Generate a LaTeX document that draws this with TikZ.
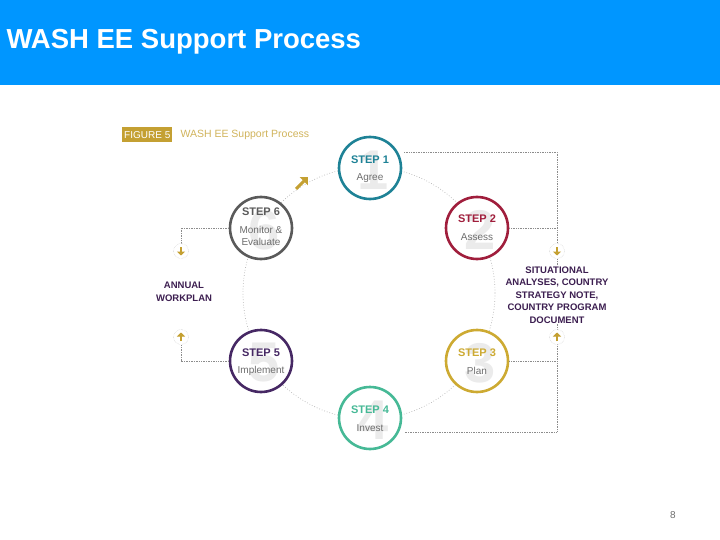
\documentclass[tikz,border=0pt]{standalone}
\usepackage{fontspec}
\setmainfont{Liberation Sans}
\usetikzlibrary{arrows.meta}
\definecolor{hdr}{RGB}{0,150,255}
\definecolor{gold}{RGB}{196,160,50}
\definecolor{c1}{RGB}{30,130,150}
\definecolor{c2}{RGB}{160,30,60}
\definecolor{c3}{RGB}{205,170,50}
\definecolor{c4}{RGB}{70,185,150}
\definecolor{c5}{RGB}{70,40,100}
\definecolor{c6}{RGB}{90,90,90}
\definecolor{txt}{RGB}{110,110,110}
\definecolor{purp}{RGB}{60,30,80}
\begin{document}
\begin{tikzpicture}[x=1pt,y=-1pt,
 stepc/.style={circle,draw=#1,line width=2.6pt,minimum size=62pt,inner sep=0pt},
 bignum/.style={font=\bfseries\fontsize{56}{56}\selectfont,text=black!8},
 sttl/.style={font=\bfseries\fontsize{11}{12}\selectfont,text=#1},
 ssub/.style={font=\fontsize{10}{11}\selectfont,text=txt,align=center},
 dots/.style={densely dotted,draw=black!45,line width=0.7pt},
 ring/.style={dotted,draw=black!30,line width=0.7pt},
 arrc/.style={circle,draw=black!25,densely dotted,minimum size=15pt,inner sep=0pt},
 side/.style={font=\bfseries\fontsize{9.5}{12.5}\selectfont,text=purp,align=center}]
\useasboundingbox (0,0) rectangle (720,540);
\fill[hdr] (0,0) rectangle (720,85);
\node[anchor=west,text=white,font=\bfseries\fontsize{27.5}{30}\selectfont] (title) at (3,42) {WASH EE Support Process};
\node[fill=gold,text=white,anchor=west,font=\fontsize{10}{10}\selectfont,minimum height=15pt,inner sep=2pt] (fig) at (122,135) {FIGURE 5};
\node[anchor=west,text=gold!80,font=\fontsize{10.5}{11}\selectfont] (figt) at (177,135) {WASH EE Support Process};
\draw[ring] (369,293) circle (126);
\foreach \n/\x/\y/\c in {1/370/168/c1,2/477/228/c2,3/477/361/c3,4/370/418/c4,5/261/361/c5,6/261/228/c6}{
 \fill[white] (\x,\y) circle (32);
 \node[bignum] at (\x+3,\y+2) {\n};
 \node[stepc=\c] (s\n) at (\x,\y) {};
}
\node[sttl=c1] at (370,160) {STEP 1};
\node[ssub] at (370,178) {Agree};
\node[sttl=c2] at (477,219) {STEP 2};
\node[ssub] at (477,237) {Assess};
\node[sttl=c3] at (477,353) {STEP 3};
\node[ssub] at (477,371) {Plan};
\node[sttl=c4] at (370,410) {STEP 4};
\node[ssub] at (370,428) {Invest};
\node[sttl=c5] at (261,353) {STEP 5};
\node[ssub] at (261,371) {Implement};
\node[sttl=c6] at (261,212) {STEP 6};
\node[ssub,font=\fontsize{10}{12}\selectfont] at (261,236) {Monitor \&\\Evaluate};
% right loop
\coordinate (r1) at (557,152); \coordinate (r4) at (557,432);
\draw[dots] (404,152) -- (r1) -- (r4) -- (404,432);
\draw[dots] (s2.east) -- (557,228);
\draw[dots] (s3.east) -- (557,361);
\node[arrc,fill=white] (ar1) at (557,251) {};
\node[arrc,fill=white] (ar2) at (557,337) {};
\node[side,fill=white,inner sep=1pt] (rt) at (557,295) {SITUATIONAL\\ANALYSES, COUNTRY\\STRATEGY NOTE,\\COUNTRY PROGRAM\\DOCUMENT};
% left loop
\draw[dots] (s6.west) -- (181,228) -- (181,246);
\draw[dots] (s5.west) -- (181,361) -- (181,342);
\node[arrc,fill=white] (al1) at (181,251) {};
\node[arrc,fill=white] (al2) at (181,337) {};
\node[side] (lt) at (184,292) {ANNUAL\\WORKPLAN};
\foreach \p in {ar1,al1}{\draw[gold,line width=2pt,-{Triangle[length=4pt,width=8pt]}] ([yshift=4pt]\p.center) -- ([yshift=-4.5pt]\p.center);}
\foreach \p in {ar2,al2}{\draw[gold,line width=2pt,-{Triangle[length=4pt,width=8pt]}] ([yshift=-4pt]\p.center) -- ([yshift=4.5pt]\p.center);}
\coordinate (ga) at (296,189); \coordinate (gb) at (308,177);
\draw[gold,line width=3pt,-{Triangle[length=6pt,width=11pt]}] (ga) -- (gb);
\node[text=txt,font=\fontsize{10}{11}\selectfont] (pg) at (673,515) {8};
\end{tikzpicture}
\end{document}
